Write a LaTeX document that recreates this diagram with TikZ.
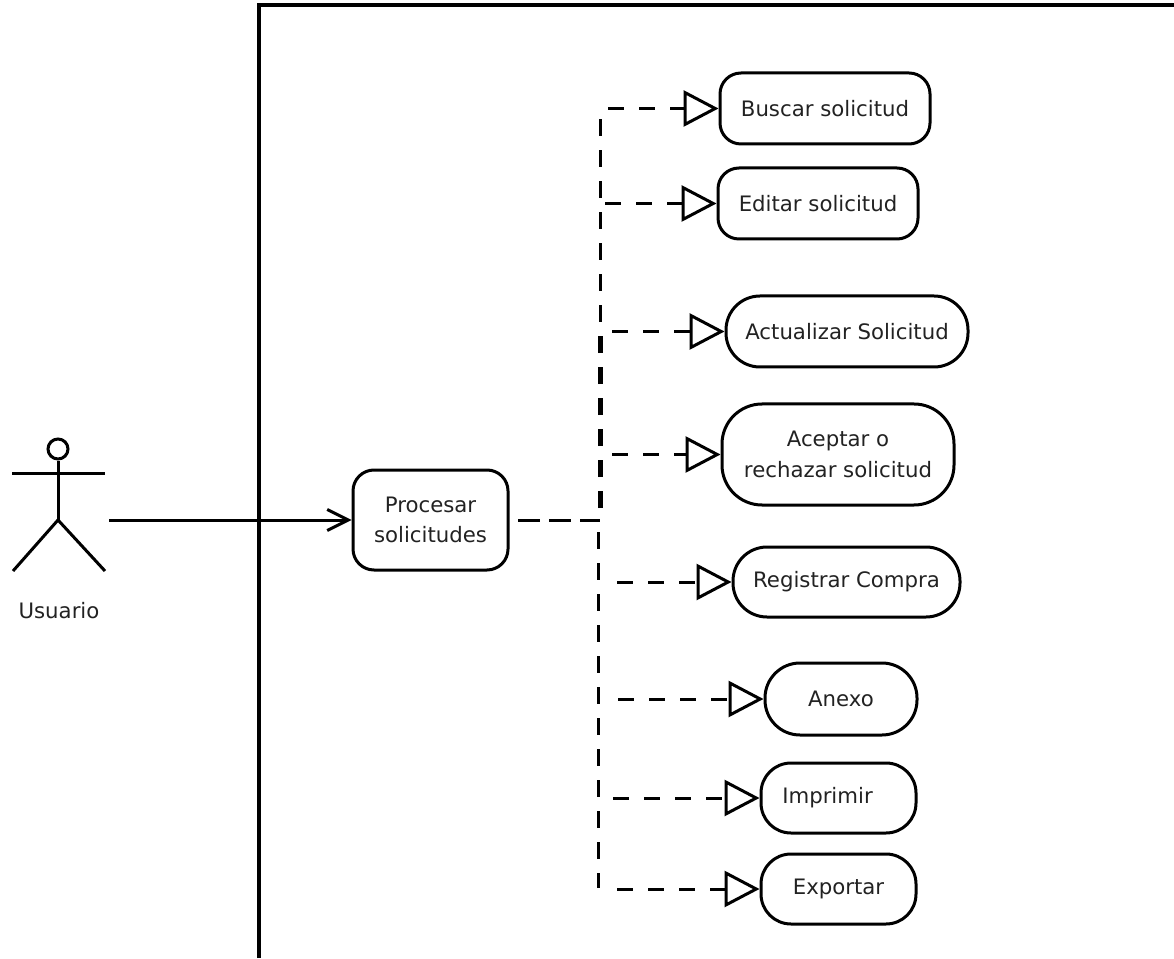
\documentclass[tikz,border=0pt]{standalone}
\usepackage{fontspec}
\setmainfont{DejaVu Sans}
\usetikzlibrary{arrows.meta}
\definecolor{labeltext}{HTML}{222222}

\tikzset{
  usecase/.style={draw, line width=.06cm, align=center, inner sep=0pt, font=\fontsize{12.1}{17.5}\selectfont, text=labeltext, minimum height=1.42cm},
  dep/.style={line width=.06cm, dash pattern=on .32cm off .30cm, -{Triangle[open, length=.70cm, width=.72cm, line width=.06cm]}},
  stem/.style={line width=.06cm, dash pattern=on .34cm off .28cm, dash phase=.38cm},
  assoc/.style={line width=.06cm, -{Straight Barb[length=.42cm, width=.42cm, line width=.06cm]}},
  actorline/.style={line width=.06cm}
}

\begin{document}
\begin{tikzpicture}
       \useasboundingbox (0cm, 0cm) rectangle (23.48cm, 19.16cm);

       % frame
       \coordinate (framea) at (5.18cm, 0cm);
       \coordinate (frameb) at (5.18cm, 19.06cm);
       \coordinate (framec) at (23.48cm, 19.06cm);
       \draw[line width=.07cm] (framea) -- (frameb) -- (framec);

       % actor
       \node[draw, circle, line width=.06cm, minimum width=.4cm, inner sep=0pt] (head) at (1.16cm, 10.18cm) {};
       \coordinate (hip) at (1.16cm, 8.76cm);
       \coordinate (armleft) at (.24cm, 9.70cm);
       \coordinate (armright) at (2.10cm, 9.70cm);
       \coordinate (footleft) at (.26cm, 7.74cm);
       \coordinate (footright) at (2.10cm, 7.74cm);
       \draw[actorline] (head) -- (hip);
       \draw[actorline] (armleft) -- (armright);
       \draw[actorline] (footleft) -- (hip) -- (footright);
       \node[font=\fontsize{12.1}{14}\selectfont, text=labeltext] (usuario) at (1.18cm, 6.94cm) {Usuario};

       % use cases
       \node[usecase, rounded corners=.42cm, minimum width=3.10cm, minimum height=2cm] (procesar) at (8.61cm, 8.76cm) {Procesar\\solicitudes};
       \node[usecase, rounded corners=.42cm, minimum width=4.20cm] (buscar) at (16.50cm, 16.99cm) {Buscar solicitud};
       \node[usecase, rounded corners=.42cm, minimum width=4.00cm] (editar) at (16.36cm, 15.09cm) {Editar solicitud};
       \node[usecase, rounded corners=.68cm, minimum width=4.84cm] (actualizar) at (16.94cm, 12.53cm) {Actualizar Solicitud};
       \node[usecase, rounded corners=.80cm, minimum width=4.64cm, minimum height=2.02cm] (aceptar) at (16.76cm, 10.07cm) {Aceptar o\\rechazar solicitud};
       \node[usecase, rounded corners=.68cm, minimum width=4.54cm, minimum height=1.40cm] (registrar) at (16.93cm, 7.52cm) {Registrar Compra};
       \node[usecase, rounded corners=.70cm, minimum width=3.04cm, minimum height=1.44cm] (anexo) at (16.82cm, 5.18cm) {Anexo};
       \node[usecase, rounded corners=.60cm, minimum width=3.10cm, minimum height=1.40cm] (imprimir) at (16.77cm, 3.20cm) {Imprimir\hspace{.44cm}};
       \node[usecase, rounded corners=.60cm, minimum width=3.10cm, minimum height=1.40cm] (exportar) at (16.77cm, 1.38cm) {Exportar};

       % connectors
       \coordinate (actorhand) at (2.18cm, 8.76cm);
       \coordinate (depstart) at (10.36cm, 8.76cm);
       \coordinate (junction) at (12cm, 8.76cm);
       \coordinate (junctionlow) at (11.96cm, 8.76cm);
       \coordinate (stemtop) at (12cm, 16.99cm);
       \coordinate (stemmid) at (12.01cm, 12.53cm);
       \coordinate (junctionmid) at (12.01cm, 8.76cm);
       \coordinate (stembottom) at (11.96cm, 1.40cm);
       \draw[assoc] (actorhand) -- (procesar);
       \draw[line width=.06cm, dash pattern=on .43cm off .19cm] (depstart) -- (junction);
       \draw[stem] (junction) -- (stemtop);
       \draw[stem, line width=.1cm] (junctionmid) -- (stemmid);
       \draw[stem] (junctionlow) -- (stembottom);
       \foreach \target/\gap in {buscar/.16, editar/.10, actualizar/.24, aceptar/.24, registrar/.34, anexo/.36, imprimir/.26, exportar/.34}
              \draw[dep] (junction |- \target.west) ++(\gap cm, 0) -- (\target.west);
    \end{tikzpicture}
\end{document}
